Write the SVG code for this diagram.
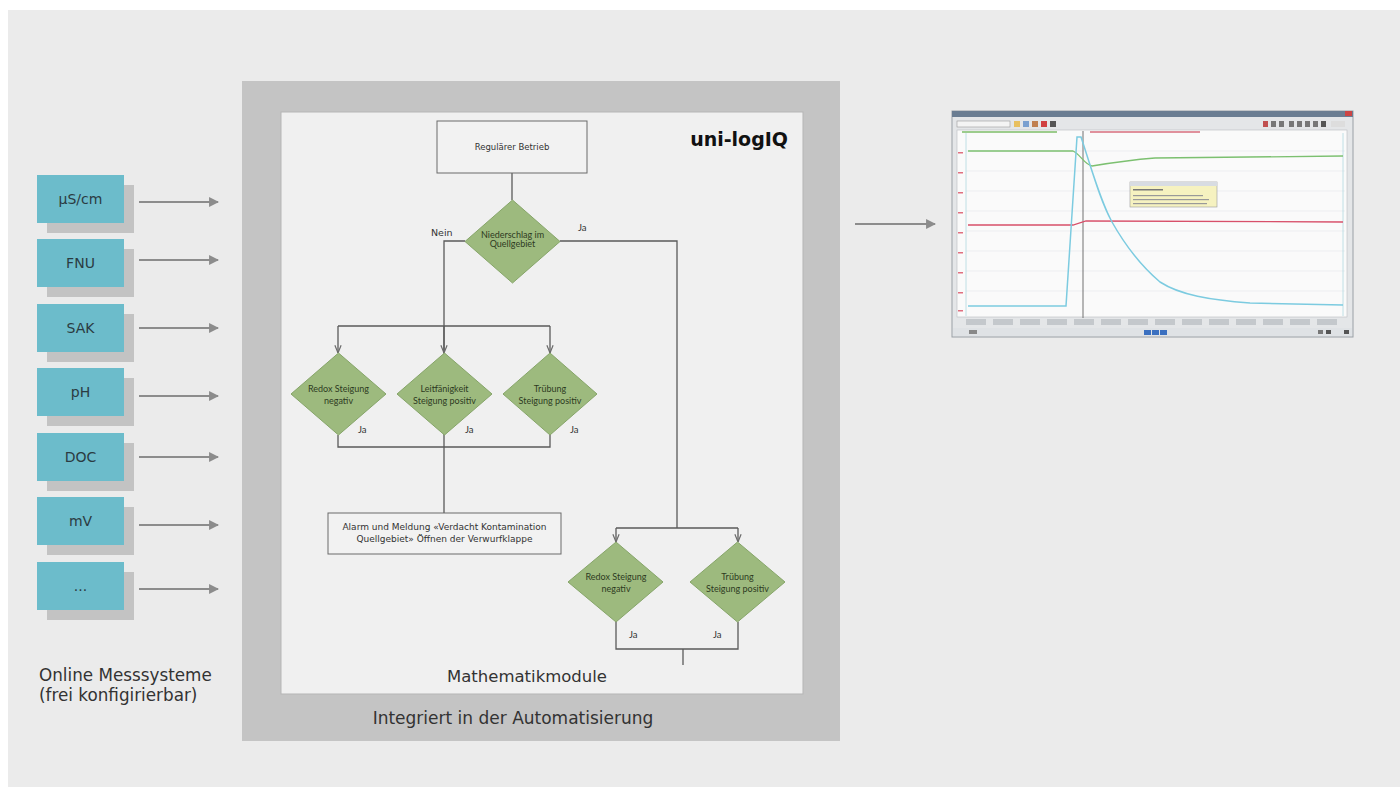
<svg xmlns="http://www.w3.org/2000/svg" width="1400" height="787" viewBox="0 0 1400 787">
<style>
.box{fill:#6cbccb}
.shadow{fill:#c3c3c3}
.blabel{font-family:"DejaVu Sans",Verdana,sans-serif;font-size:14px;fill:#2b3b42;text-anchor:middle}
.arr{stroke:#8c8c8c;stroke-width:2.2;fill:none}
.fl{stroke:#5a5a5a;stroke-width:1.3;fill:none}
.dia{fill:#9dba7e;stroke:#86a569;stroke-width:1}
.dt{font-family:Lato,"Liberation Sans",sans-serif;font-size:9px;fill:#2e3a22;text-anchor:middle}
.vt{font-family:"DejaVu Sans",Verdana,sans-serif;fill:#333}
.ja{font-family:Lato,"Liberation Sans",sans-serif;font-size:9.5px;fill:#333}
.rect{fill:#f2f2f2;stroke:#6a6a6a;stroke-width:1}
</style>
<defs>
<marker id="ah" viewBox="0 0 10 10" refX="9" refY="5" markerWidth="4.5" markerHeight="4.5" orient="auto"><path d="M0,0 L10,5 L0,10 z" fill="#8c8c8c"/></marker>
<marker id="vh" viewBox="0 0 10 10" refX="10" refY="5" markerWidth="6" markerHeight="6" orient="auto"><path d="M0,1 L10,5 L0,9" fill="none" stroke="#6a6a6a" stroke-width="1.5"/></marker>
</defs>
<rect x="0" y="0" width="1400" height="787" fill="#ffffff"/>
<rect x="8" y="10" width="1392" height="777" fill="#ebebeb"/>

<!-- left measurement boxes -->
<g id="m1"><rect class="shadow" x="47" y="185" width="87" height="48"/><rect class="box" x="37" y="175" width="87" height="48"/><text class="blabel" x="80.5" y="204">µS/cm</text></g>
<g id="m2"><rect class="shadow" x="47" y="249" width="87" height="48"/><rect class="box" x="37" y="239" width="87" height="48"/><text class="blabel" x="80.5" y="268">FNU</text></g>
<g id="m3"><rect class="shadow" x="47" y="314" width="87" height="48"/><rect class="box" x="37" y="304" width="87" height="48"/><text class="blabel" x="80.5" y="333">SAK</text></g>
<g id="m4"><rect class="shadow" x="47" y="378" width="87" height="48"/><rect class="box" x="37" y="368" width="87" height="48"/><text class="blabel" x="80.5" y="397">pH</text></g>
<g id="m5"><rect class="shadow" x="47" y="443" width="87" height="48"/><rect class="box" x="37" y="433" width="87" height="48"/><text class="blabel" x="80.5" y="462">DOC</text></g>
<g id="m6"><rect class="shadow" x="47" y="507" width="87" height="48"/><rect class="box" x="37" y="497" width="87" height="48"/><text class="blabel" x="80.5" y="526">mV</text></g>
<g id="m7"><rect class="shadow" x="47" y="572" width="87" height="48"/><rect class="box" x="37" y="562" width="87" height="48"/><text class="blabel" x="80.5" y="591">...</text></g>
<g id="leftcaption"><text class="vt" font-size="16.8" x="39" y="681">Online Messsysteme</text><text class="vt" font-size="16.8" x="39" y="701">(frei konfigirierbar)</text></g>

<!-- automation frame -->
<g id="automation">
<rect x="242" y="81" width="598" height="660" fill="#c4c4c4"/>
<rect x="281" y="112" width="522" height="582" fill="#f0f0f0" stroke="#b5b5b5" stroke-width="1"/>
<text class="vt" font-size="17" x="513" y="724" text-anchor="middle">Integriert in der Automatisierung</text>
<text class="vt" font-size="16.5" x="527" y="682" text-anchor="middle">Mathematikmodule</text>
<text font-family="'DejaVu Sans',Verdana,sans-serif" font-weight="bold" font-size="19" x="788" y="146" text-anchor="end" fill="#111">uni-logIQ</text>
</g>

<!-- connectors -->
<g id="connectors">
<line class="arr" x1="139" y1="202" x2="218" y2="202" marker-end="url(#ah)"/>
<line class="arr" x1="139" y1="260" x2="218" y2="260" marker-end="url(#ah)"/>
<line class="arr" x1="139" y1="328" x2="218" y2="328" marker-end="url(#ah)"/>
<line class="arr" x1="139" y1="396" x2="218" y2="396" marker-end="url(#ah)"/>
<line class="arr" x1="139" y1="457" x2="218" y2="457" marker-end="url(#ah)"/>
<line class="arr" x1="139" y1="525" x2="218" y2="525" marker-end="url(#ah)"/>
<line class="arr" x1="139" y1="589" x2="218" y2="589" marker-end="url(#ah)"/>
<line class="arr" x1="855" y1="224" x2="935" y2="224" marker-end="url(#ah)"/>
<line class="fl" x1="512" y1="173" x2="512" y2="200"/>
<polyline class="fl" points="465,241 444,241 444,513"/>
<polyline class="fl" points="560,241 677,241 677,528"/>
<line class="fl" x1="338" y1="326" x2="550" y2="326"/>
<line class="fl" x1="338" y1="326" x2="338" y2="353" marker-end="url(#vh)"/>
<line class="fl" x1="444" y1="326" x2="444" y2="353" marker-end="url(#vh)"/>
<line class="fl" x1="550" y1="326" x2="550" y2="353" marker-end="url(#vh)"/>
<polyline class="fl" points="338,435 338,447 550,447 550,435"/>
<line class="fl" x1="616" y1="528" x2="738" y2="528"/>
<line class="fl" x1="616" y1="528" x2="616" y2="542" marker-end="url(#vh)"/>
<line class="fl" x1="738" y1="528" x2="738" y2="542" marker-end="url(#vh)"/>
<polyline class="fl" points="616,622 616,649 738,649 738,622"/>
<line class="fl" x1="683" y1="649" x2="683" y2="665"/>
</g>

<!-- flowchart nodes -->
<g id="regular"><rect class="rect" x="437" y="121" width="150" height="52"/><text class="vt" font-size="8.5" x="512" y="150" text-anchor="middle">Regulärer Betrieb</text></g>
<g id="d0"><polygon class="dia" points="512.5,200 560,241.5 512.5,283 465,241.5"/><text class="dt" font-size="7" x="512.5" y="238">Niederschlag im</text><text class="dt" font-size="7" x="512.5" y="247">Quellgebiet</text></g>
<text class="vt" font-size="9.5" x="431" y="236">Nein</text>
<text class="ja" x="578" y="231">Ja</text>
<g id="d1"><polygon class="dia" points="338.5,353 386,394 338.5,435 291,394"/><text class="dt" x="338.5" y="392">Redox Steigung</text><text class="dt" x="338.5" y="404">negativ</text><text class="ja" x="358" y="433">Ja</text></g>
<g id="d2"><polygon class="dia" points="444.5,353 492,394 444.5,435 397,394"/><text class="dt" x="444.5" y="392">Leitfänigkeit</text><text class="dt" x="444.5" y="404">Steigung positiv</text><text class="ja" x="465" y="433">Ja</text></g>
<g id="d3"><polygon class="dia" points="550,353 597,394 550,435 503,394"/><text class="dt" x="550" y="392">Trübung</text><text class="dt" x="550" y="404">Steigung positiv</text><text class="ja" x="570" y="433">Ja</text></g>
<g id="alarm"><rect class="rect" x="328" y="513" width="233" height="41"/><text class="vt" font-size="9" x="444.5" y="530" text-anchor="middle">Alarm und Meldung «Verdacht Kontamination</text><text class="vt" font-size="9" x="444.5" y="542" text-anchor="middle">Quellgebiet» Öffnen der Verwurfklappe</text></g>
<g id="d4"><polygon class="dia" points="616,542 663,582 616,622 568,582"/><text class="dt" x="616" y="580">Redox Steigung</text><text class="dt" x="616" y="592">negativ</text><text class="ja" x="629" y="638">Ja</text></g>
<g id="d5"><polygon class="dia" points="737.5,542 785,582 737.5,622 690,582"/><text class="dt" x="737.5" y="580">Trübung</text><text class="dt" x="737.5" y="592">Steigung positiv</text><text class="ja" x="713" y="638">Ja</text></g>

<!-- screenshot of trend window -->
<g id="screenshot">
<rect x="952" y="111" width="401" height="226" fill="#e4e6e8" stroke="#9aa0a6" stroke-width="1"/>
<rect x="952" y="111" width="401" height="6" fill="#6a7d92"/>
<rect x="1345" y="111" width="7" height="5" fill="#c44"/>
<rect x="957" y="121" width="53" height="6" fill="#f4f4f4" stroke="#999" stroke-width="0.6"/>
<rect x="1014" y="121" width="6" height="6" fill="#e8c060"/>
<rect x="1023" y="121" width="6" height="6" fill="#7aa0d0"/>
<rect x="1032" y="121" width="6" height="6" fill="#c08050"/>
<rect x="1041" y="121" width="6" height="6" fill="#d04040"/>
<rect x="1050" y="121" width="6" height="6" fill="#555"/>
<rect x="1263" y="121" width="5" height="6" fill="#c05050"/>
<rect x="1271" y="121" width="5" height="6" fill="#777"/>
<rect x="1279" y="121" width="5" height="6" fill="#777"/>
<rect x="1289" y="121" width="5" height="6" fill="#777"/>
<rect x="1297" y="121" width="5" height="6" fill="#777"/>
<rect x="1305" y="121" width="5" height="6" fill="#777"/>
<rect x="1313" y="121" width="5" height="6" fill="#777"/>
<rect x="1321" y="121" width="5" height="6" fill="#555"/>
<rect x="1331" y="121" width="14" height="6" fill="#ddd"/>
<rect x="957" y="130" width="390" height="187" fill="#fafafa" stroke="#b8bcc0" stroke-width="0.6"/>
<rect x="962" y="131" width="95" height="2" fill="#9ccc8c"/>
<rect x="1090" y="131" width="110" height="2" fill="#e0909c"/>
<g stroke="#e6e8ec" stroke-width="0.6">
<line x1="966" y1="151" x2="1345" y2="151"/><line x1="966" y1="171" x2="1345" y2="171"/><line x1="966" y1="191" x2="1345" y2="191"/><line x1="966" y1="211" x2="1345" y2="211"/><line x1="966" y1="231" x2="1345" y2="231"/><line x1="966" y1="251" x2="1345" y2="251"/><line x1="966" y1="271" x2="1345" y2="271"/><line x1="966" y1="291" x2="1345" y2="291"/>
</g>
<g fill="#e07080">
<rect x="958" y="152" width="5" height="1.5"/><rect x="958" y="172" width="5" height="1.5"/><rect x="958" y="192" width="5" height="1.5"/><rect x="958" y="212" width="5" height="1.5"/><rect x="958" y="232" width="5" height="1.5"/><rect x="958" y="252" width="5" height="1.5"/><rect x="958" y="272" width="5" height="1.5"/><rect x="958" y="292" width="5" height="1.5"/><rect x="958" y="310" width="5" height="1.5"/>
</g>
<line x1="966" y1="133" x2="966" y2="316" stroke="#b0d8e0" stroke-width="0.8"/>
<line x1="1343" y1="133" x2="1343" y2="316" stroke="#b0d8e0" stroke-width="0.8"/>
<line x1="1083" y1="131" x2="1083" y2="318" stroke="#707070" stroke-width="1"/>
<path d="M968,151 L1073,151 C1080,154 1085,165 1092,166 C1110,163 1130,160 1155,158 L1343,156" fill="none" stroke="#7cc070" stroke-width="1.3"/>
<path d="M968,225 L1073,225 L1086,221 L1343,222" fill="none" stroke="#d8506a" stroke-width="1.3"/>
<path d="M968,306 L1066,306 L1077,137 L1081,137 C1092,170 1100,200 1112,222 C1125,245 1140,265 1160,282 C1180,295 1210,300 1250,303 L1343,305" fill="none" stroke="#7ccbe0" stroke-width="1.5"/>
<rect x="1130" y="182" width="87" height="25" fill="#f6f2c0" stroke="#9a9a9a" stroke-width="0.6"/>
<rect x="1130" y="182" width="87" height="4" fill="#d8dce2"/>
<rect x="1133" y="189" width="30" height="1.5" fill="#777"/>
<rect x="1133" y="195" width="70" height="1.2" fill="#999"/>
<rect x="1133" y="199" width="76" height="1.2" fill="#999"/>
<rect x="1133" y="203" width="74" height="1.2" fill="#999"/>
<g fill="#c4c8cc">
<rect x="966" y="319" width="20" height="6"/><rect x="993" y="319" width="20" height="6"/><rect x="1020" y="319" width="20" height="6"/><rect x="1047" y="319" width="20" height="6"/><rect x="1074" y="319" width="20" height="6"/><rect x="1101" y="319" width="20" height="6"/><rect x="1128" y="319" width="20" height="6"/><rect x="1155" y="319" width="20" height="6"/><rect x="1182" y="319" width="20" height="6"/><rect x="1209" y="319" width="20" height="6"/><rect x="1236" y="319" width="20" height="6"/><rect x="1263" y="319" width="20" height="6"/><rect x="1290" y="319" width="20" height="6"/><rect x="1317" y="319" width="20" height="6"/>
</g>
<rect x="953" y="328" width="399" height="8" fill="#dfe2e5"/>
<rect x="969" y="330" width="8" height="4" fill="#888"/>
<rect x="1144" y="330" width="7" height="5" fill="#3b70c0"/>
<rect x="1152" y="330" width="7" height="5" fill="#3b70c0"/>
<rect x="1160" y="330" width="7" height="5" fill="#3b70c0"/>
<rect x="1318" y="330" width="5" height="4" fill="#777"/>
<rect x="1326" y="330" width="5" height="4" fill="#555"/>
<rect x="1344" y="330" width="5" height="4" fill="#555"/>
</g>
</svg>
